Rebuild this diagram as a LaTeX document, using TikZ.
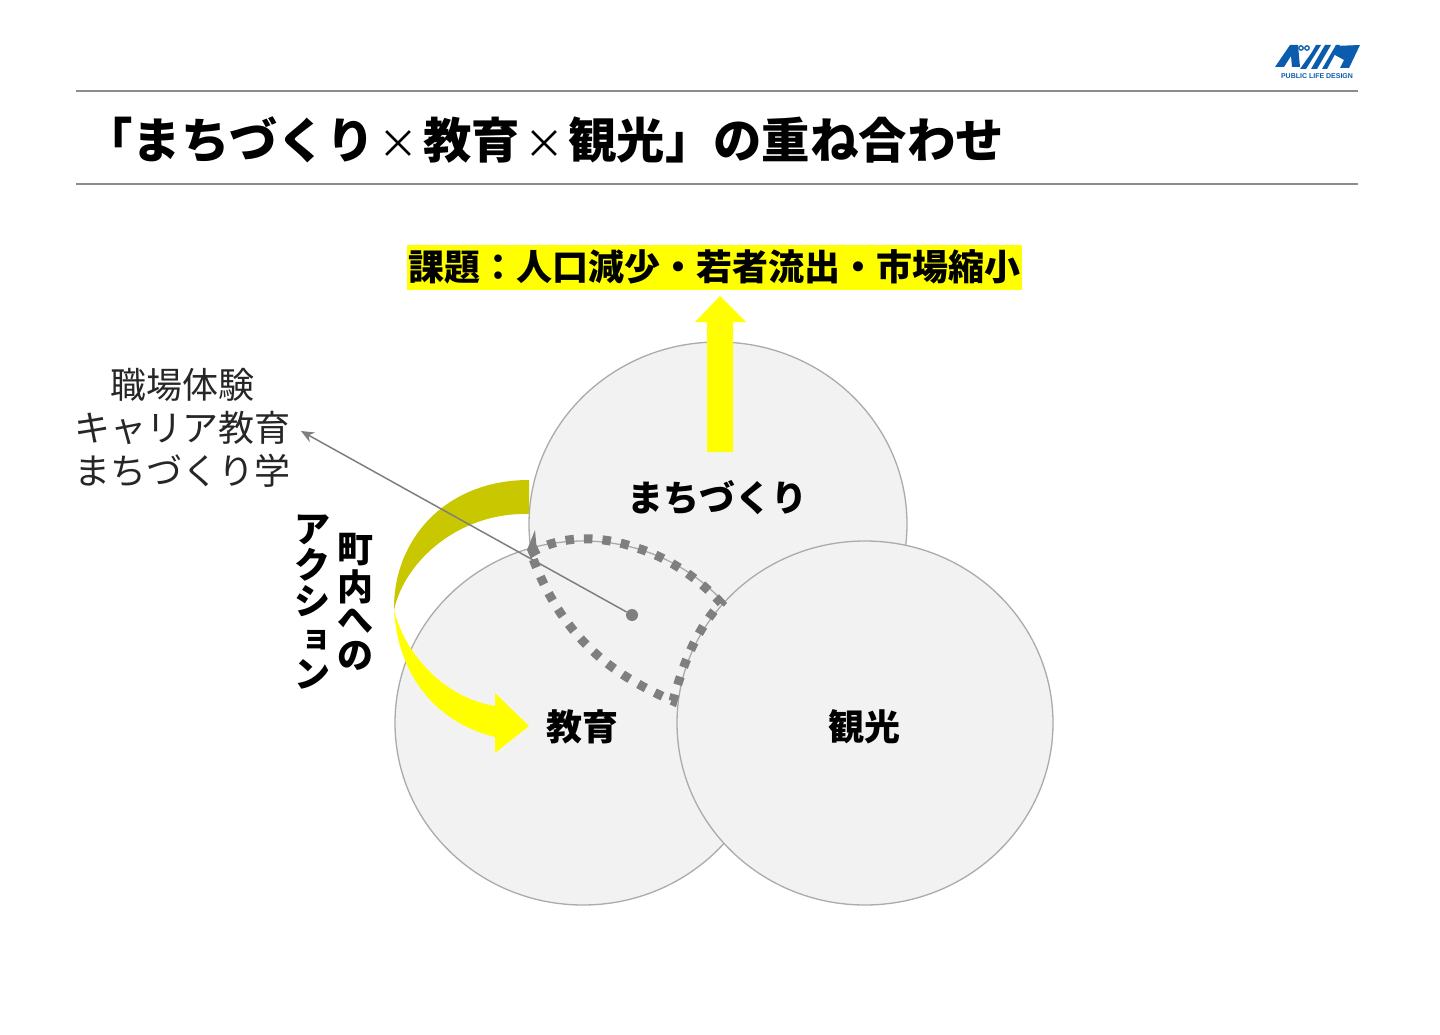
\documentclass[tikz,border=0pt]{standalone}
\usepackage{fontspec}
\setmainfont{Noto Sans CJK JP}
\setsansfont{Liberation Sans}
\definecolor{ringfill}{HTML}{F2F2F2}
\definecolor{ringline}{HTML}{ABABAB}
\definecolor{rulegray}{HTML}{8C8C8C}
\definecolor{markgray}{HTML}{7F7F7F}
\definecolor{olive}{HTML}{C9C800}
\definecolor{brand}{HTML}{0B5CAD}
\definecolor{pureyellow}{HTML}{FFFF00}
\usetikzlibrary{arrows.meta}
\tikzset{
  ring/.style={ellipse,draw=ringline,line width=1.3pt,fill=ringfill,minimum width=376pt,minimum height=364pt,inner sep=0},
  txt/.style={inner sep=0,font=\fontsize{36}{43}\selectfont,text=black!85},
  boldtxt/.style={inner sep=0,font=\fontsize{36}{43}\selectfont\bfseries,text=black},
  zone/.style={draw=markgray,line width=9pt,dash pattern=on 8.5pt off 10pt},
  leader/.style={draw=markgray,line width=1.5pt,-{Stealth[length=13pt,width=11pt]}},
  logoshape/.style={fill=brand,draw=none}
}
\usetikzlibrary{shapes.geometric}
\begin{document}
\begin{tikzpicture}[x=1pt,y=-1pt]
\useasboundingbox (0,0) rectangle (1440,1035);
\fill[white] (0,0) rectangle (1440,1035);
% rules
\draw[rulegray,line width=2.6pt] (76,91) -- (1358,91);
\draw[rulegray,line width=1.8pt] (76,184) -- (1358,184);
% logo
\fill[logoshape] (1275,67) -- (1290,45) -- (1298,45) -- (1300,67) -- (1292,67) -- (1291,56) -- (1284,67) -- cycle;
\draw[brand,line width=1.3pt] (1301,48) circle (2.2pt) (1307,48) circle (2.2pt);
\fill[logoshape] (1300,69) -- (1312,52) -- (1316,45) -- (1321,45) -- (1306,69) -- cycle;
\fill[logoshape] (1311,69) -- (1325,45) -- (1331,45) -- (1317,69) -- cycle;
\fill[logoshape] (1322,69) -- (1336,45) -- (1340,45) -- (1327,69) -- cycle;
\fill[logoshape] (1335,46) -- (1360,45) -- (1349,68) -- (1340,68) -- (1344,60) -- (1335,55) -- cycle;
\node[inner sep=0,text=brand,font=\fontsize{7}{8}\sffamily\bfseries] (logotext) at (1317,76.5) {PUBLIC LIFE DESIGN};
% title
\node[inner sep=0,anchor=west,font=\fontsize{48.4}{56}\selectfont\bfseries,text=black] (title) at (84,140) {「まちづくり\makebox[48.4pt]{\fontsize{40}{44}\selectfont\mdseries ×}教育\makebox[48.4pt]{\fontsize{40}{44}\selectfont\mdseries ×}観光」の重ね合わせ};
% issue
\fill[pureyellow] (407,245) rectangle (1022,290);
\node[boldtxt] (issue) at (714.5,267) {課題：人口減少・若者流出・市場縮小};
% circles
\node[ring,minimum width=378pt] (machi) at (718,524) {};
\node[ring] (edu) at (583,723) {};
\node[ring] (kanko) at (865,723) {};
\node[boldtxt] (machitxt) at (717,498) {まちづくり};
\node[boldtxt] (edutxt) at (582,727) {教育};
\node[boldtxt] (kankotxt) at (864,727) {観光};
% up arrow
\fill[pureyellow] (707,452) -- (733,452) -- (733,322) -- (746,322) -- (720,296) -- (695,322) -- (707,322) -- cycle;
% zone
\coordinate (zs) at (531,553);
\coordinate (zr) at (721,603);
\coordinate (zb) at (673,701);
\draw[zone] (zs) .. controls (560,535) and (600,535) .. (637,548) .. controls (670,558) and (700,580) .. (zr)
  .. controls (698,628) and (684,660) .. (zb)
  .. controls (630,682) and (565,650) .. (zs);
\fill[markgray] (535,530) -- (527,550) -- (531,559) -- (537,552) -- cycle;
% curved arrow
\fill[olive] (529,480) .. controls (445,480) and (393,540) .. (394,610) .. controls (405,560) and (460,512) .. (529,514) -- cycle;
\fill[pureyellow] (394,610) .. controls (398,675) and (435,722) .. (495,737) -- (495,753) -- (529,726) -- (495,693) -- (495,706) .. controls (445,698) and (405,655) .. (394,610) -- cycle;
% labels
\node[txt,align=center] (left) at (182.5,428) {職場体験\\キャリア教育\\まちづくり学};
\node[boldtxt,align=center,font=\fontsize{36}{37}\selectfont\bfseries] (vert1) at (355,602) {町\\[1pt]内\\[-4pt]へ\\[-2pt]の};
\node[boldtxt,align=center,font=\fontsize{36}{36.2}\selectfont\bfseries] (vert2) at (312,602) {ア\\ク\\シ\\\makebox[36pt]{\hspace{9pt}\raisebox{4pt}{\fontsize{30}{30}\selectfont ョ}}\\ン};
% leader
\node[circle,fill=markgray,inner sep=0,minimum size=12pt] (dot) at (632,615) {};
\coordinate (lefttip) at (301,431);
\draw[leader] (dot) -- (lefttip);
\end{tikzpicture}
\end{document}
